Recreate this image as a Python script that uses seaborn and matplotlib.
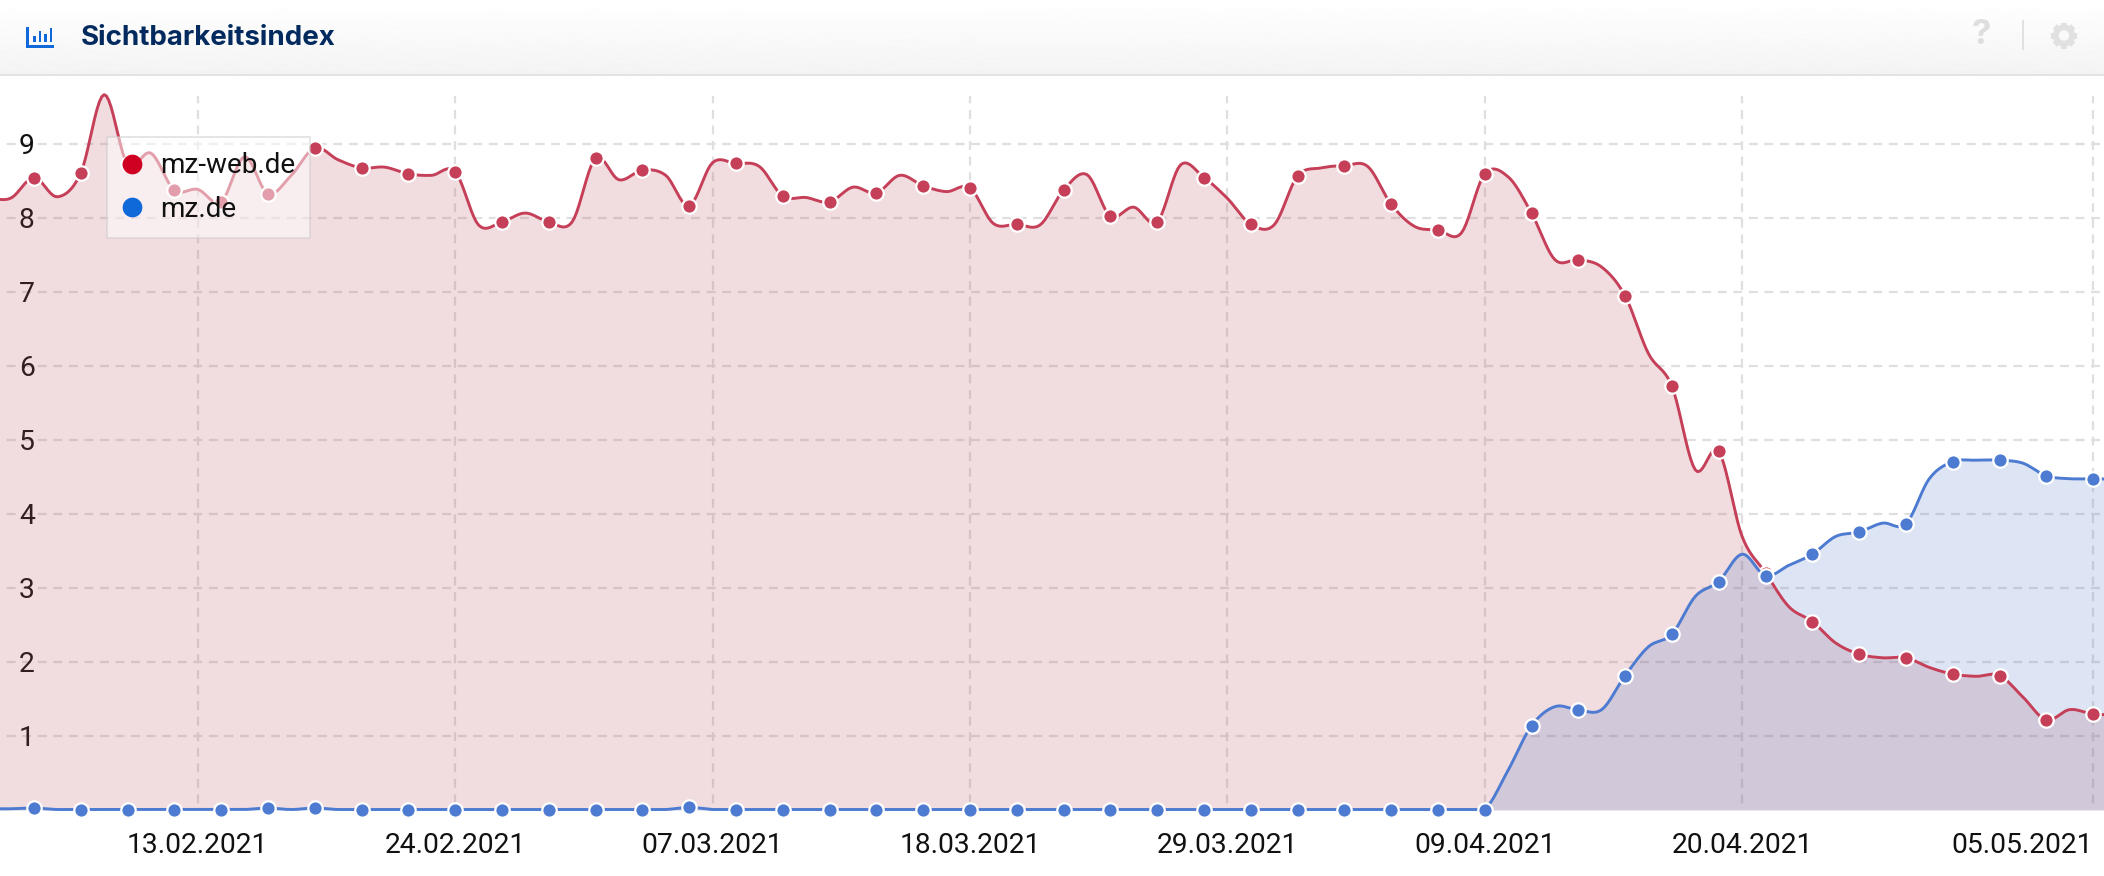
import numpy as np
import pandas as pd
import seaborn as sns
import matplotlib
matplotlib.use("Agg")
import matplotlib.pyplot as plt
import matplotlib.dates as mdates
from matplotlib.lines import Line2D
from matplotlib.patches import Rectangle, Circle

# ---------- data ----------
title = "Sichtbarkeitsindex"
series_names = ["mz-web.de", "mz.de"]
first_day = "2021-02-04"
last_day = "2021-05-06"
red_values = [
    8.27, 8.26, 8.54, 8.28, 8.60, 9.66, 8.72, 8.87, 8.37, 8.38, 8.21, 8.82, 8.32,
    8.57, 8.94, 8.78, 8.67, 8.68, 8.59, 8.57, 8.62, 7.90, 7.94, 8.06, 7.94,
    7.94, 8.80, 8.51, 8.64, 8.57, 8.16, 8.74, 8.73, 8.69, 8.29, 8.27, 8.21, 8.41,
    8.33, 8.57, 8.43, 8.35, 8.40, 7.92, 7.91, 7.90, 8.37, 8.58, 8.02, 8.14, 7.94,
    8.71, 8.54, 8.26, 7.91, 7.90,
    8.56, 8.67, 8.70, 8.69, 8.18, 7.88, 7.83, 7.79, 8.59, 8.55, 8.06, 7.43, 7.43,
    7.33, 6.94, 6.16, 5.72, 4.59, 4.84, 3.69, 3.20, 2.74, 2.54, 2.25, 2.10, 2.05,
    2.05, 1.92, 1.83, 1.80,
    1.81, 1.52, 1.21, 1.35, 1.29, 1.28,
]
blue_values = [
    0.01, 0.01, 0.02, 0.00, 0.00, 0.00, 0.00, 0.00, 0.00, 0.00, 0.00, 0.00, 0.02,
    0.00, 0.02, 0.00, 0.00, 0.00, 0.00, 0.00, 0.00, 0.00, 0.00, 0.00, 0.00,
    0.00, 0.00, 0.00, 0.00, 0.00, 0.03, 0.00, 0.00, 0.00, 0.00, 0.00, 0.00, 0.00,
    0.00, 0.00, 0.00, 0.00, 0.00, 0.00, 0.00, 0.00, 0.00, 0.00, 0.00, 0.00, 0.00,
    0.00, 0.00, 0.00, 0.00, 0.00,
    0.00, 0.00, 0.00, 0.00, 0.00, 0.00, 0.00, 0.00, 0.00, 0.53, 1.13, 1.39, 1.345,
    1.35, 1.81, 2.20, 2.37, 2.88, 3.08, 3.45, 3.16, 3.30, 3.45, 3.69, 3.75, 3.87,
    3.86, 4.47, 4.70, 4.72,
    4.72, 4.68, 4.51, 4.47, 4.47, 4.46,
]
tick_dates = ["2021-02-13", "2021-02-24", "2021-03-07", "2021-03-18",
              "2021-03-29", "2021-04-09", "2021-04-20", "2021-05-05"]
tick_labels = ["13.02.2021", "24.02.2021", "07.03.2021", "18.03.2021",
               "29.03.2021", "09.04.2021", "20.04.2021", "05.05.2021"]
y_ticks = [1, 2, 3, 4, 5, 6, 7, 8, 9]

RED_LINE, BLUE_LINE = "#c63f58", "#4d7bd1"
RED_FILL, BLUE_FILL = "#b9505f", "#5578c3"
RED_KEY, BLUE_KEY = "#cf0021", "#1069d8"
GRID = "#dfdfdf"
W, H = 2104, 876


def spline(x, y, sub=10):
    """Cubic curve through the given points (the chart draws a spline)."""
    x, y = np.asarray(x, float), np.asarray(y, float)
    m = np.gradient(y, x)
    t = np.linspace(0, 1, sub, endpoint=False)[:, None]
    h = np.diff(x)[None, :]
    y0, y1, m0, m1 = y[:-1], y[1:], m[:-1], m[1:]
    yy = ((2*t**3 - 3*t**2 + 1)*y0 + (t**3 - 2*t**2 + t)*h*m0
          + (-2*t**3 + 3*t**2)*y1 + (t**3 - t**2)*h*m1)
    xx = x[:-1] + t*h
    return np.append(xx.T.ravel(), x[-1]), np.append(yy.T.ravel(), y[-1])


sns.set_theme(style="white")
plt.rcParams["font.family"] = ["Roboto", "DejaVu Sans"]

days = mdates.date2num(pd.date_range(first_day, last_day, freq="D"))
xr, yr = spline(days, red_values)
xb, yb = spline(days, blue_values)
yb = np.maximum(yb, 0)
curve = pd.DataFrame({"xr": xr, "yr": yr, "xb": xb, "yb": yb})
points = pd.DataFrame({"x": days, "red": red_values, "blue": blue_values}).iloc[2:-1:2]

fig = plt.figure(figsize=(W/100, H/100), dpi=100, facecolor="white")

# ---------- chart ----------
PX_DAY = 23.4
BASE, TOP, PX_UNIT = 809.5, 96, 74
ax = fig.add_axes([0, (H-BASE)/H, 1, (BASE-TOP)/H])
tick_num = mdates.date2num(pd.to_datetime(tick_dates))
x0 = tick_num[0] - 197.7/PX_DAY
ax.set_xlim(x0, x0 + W/PX_DAY)
ax.set_ylim(0, (BASE-TOP)/PX_UNIT)

dash = (4, (4, 3))
ax.set_axisbelow(True)
ax.grid(True, color=GRID, lw=1.6, linestyle=dash)
ax.set_xticks(tick_num)
ax.set_xticklabels(tick_labels)
ax.set_yticks(y_ticks)
ax.tick_params(axis="x", length=0, pad=16.5, labelsize=20.3, labelcolor="#111111")
ax.tick_params(axis="y", length=0, pad=-25, labelsize=20.3, labelcolor="#111111")
for lab in ax.get_yticklabels():
    lab.set_ha("right")
ax.get_xticklabels()[-1].set_ha("right")
for s in ["top", "left", "right"]:
    ax.spines[s].set_visible(False)
ax.spines["bottom"].set_color("#e2e0e8")
ax.spines["bottom"].set_linewidth(1.2)
ax.spines["bottom"].set_zorder(1.1)

ax.fill_between(curve["xr"], 0, curve["yr"], color=RED_FILL, alpha=0.2, lw=0, zorder=1.2)
ax.fill_between(curve["xb"], 0, curve["yb"], color=BLUE_FILL, alpha=0.2, lw=0, zorder=1.3)
sns.lineplot(data=curve, x="xr", y="yr", color=RED_LINE, lw=2.1, ax=ax, sort=False,
             estimator=None, zorder=2, clip_on=False)
sns.scatterplot(data=points, x="x", y="red", color=RED_LINE, s=108, edgecolor="white",
                linewidth=1.6, ax=ax, zorder=2.1, clip_on=False)
sns.lineplot(data=curve, x="xb", y="yb", color=BLUE_LINE, lw=2.1, ax=ax, sort=False,
             estimator=None, zorder=2.2, clip_on=False)
sns.scatterplot(data=points, x="x", y="blue", color=BLUE_LINE, s=108, edgecolor="white",
                linewidth=1.6, ax=ax, zorder=2.3, clip_on=False)
ax.set_xlabel("")
ax.set_ylabel("")

handles = [Line2D([], [], ls="", marker="o", ms=14.2, mfc=c, mec="none", label=n)
           for c, n in zip([RED_KEY, BLUE_KEY], series_names)]
leg = ax.legend(handles=handles, loc="upper left",
                bbox_to_anchor=(107/W, (BASE-137)/(BASE-TOP)), borderaxespad=0,
                fontsize=20.1, frameon=True, fancybox=False, framealpha=0.5,
                edgecolor="#cccccc", facecolor="white", labelspacing=0.6,
                handlelength=0.72, handletextpad=0.62, borderpad=0.55, labelcolor="#111111")
leg.get_frame().set_linewidth(1.44)
leg.set_zorder(5)

# ---------- header ----------
hd = fig.add_axes([0, (H-76)/H, 1, 76/H], zorder=3)
grad = np.linspace(1, 0.955, 64)[:, None]
hd.imshow(grad, cmap="gray", vmin=0, vmax=1, extent=(0, W, 74, 0), aspect="auto", zorder=0)
hd.set_xlim(0, W)
hd.set_ylim(76, 0)
hd.axis("off")
hd.add_patch(Rectangle((0, 74), W, 2, color="#e3e3e3", lw=0))
hd.text(81, 38, title, fontsize=19.95, fontweight="bold", family="Inter",
        color="#022a5e", ha="left", va="center")
# bar-chart icon
hd.add_patch(Rectangle((26, 45), 28, 2.6, color=BLUE_KEY, lw=0))
hd.add_patch(Rectangle((26, 27), 2.6, 20, color=BLUE_KEY, lw=0))
for bx, bt in zip([33, 38.5, 44, 49.5], [36, 31, 34, 28]):
    hd.add_patch(Rectangle((bx, bt), 2.8, 42 - bt, color=BLUE_KEY, lw=0))
# help mark, separator, gear
hd.text(1981, 35, "?", fontsize=25, fontweight="bold", family="Inter", color="#dedede",
        ha="center", va="center")
hd.add_patch(Rectangle((2022.3, 20), 1.6, 30, color="#e1e1e1", lw=0))
gx, gy = 2064, 35.5
for a in np.arange(8)*np.pi/4:
    hd.plot([gx + 9*np.cos(a), gx + 13*np.cos(a)], [gy + 9*np.sin(a), gy + 13*np.sin(a)],
            color="#e1e1e1", lw=4.2, solid_capstyle="butt")
hd.add_patch(Circle((gx, gy), 8.2, facecolor="none", edgecolor="#e1e1e1", lw=4.2))

fig.savefig("out.png", dpi=100, facecolor="white")
